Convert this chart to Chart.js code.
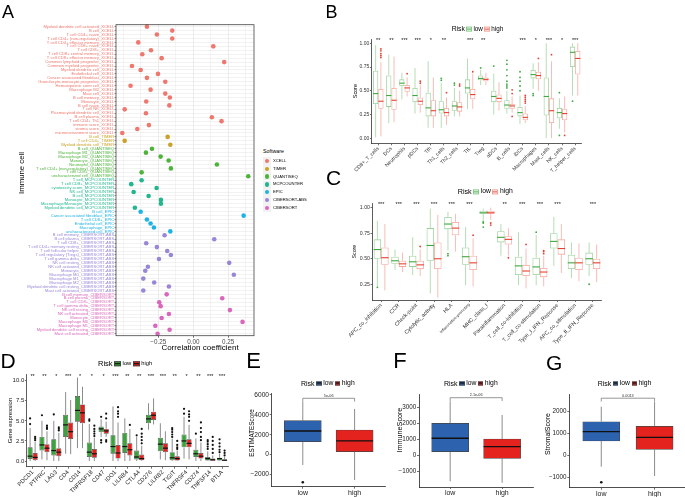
<!DOCTYPE html>
<html>
<head>
<meta charset="utf-8">
<script src="https://cdn.jsdelivr.net/npm/chart.js@4.4.0/dist/chart.umd.min.js"></script>
<style>
  body { margin: 0; background: #fff; }
  #fig { position: relative; width: 685px; height: 497px; overflow: hidden; background: #fff;
         font-family: "Liberation Sans", Arial, Helvetica, sans-serif; }
  #fig canvas { position: absolute; }
  .t { position: absolute; white-space: nowrap; line-height: 1; color: #000; }
  .key { display: inline-block; position: relative; box-sizing: border-box; margin: 0 1.5px; }
  .key::after { content: ""; position: absolute; left: 0; right: 0; top: 50%; height: 0;
                border-top: 1px solid var(--mc, #000); margin-top: -0.5px; }
</style>
</head>
<body>
<div id="fig">
  <canvas id="cA" width="258" height="362" style="left:0;top:0"></canvas>
  <canvas id="cB" width="250" height="148" style="left:338px;top:30px"></canvas>
  <canvas id="cC" width="268" height="160" style="left:338px;top:193px"></canvas>
  <canvas id="cD" width="232" height="132" style="left:0;top:365px"></canvas>
  <canvas id="cE" width="150" height="109" style="left:240px;top:388px"></canvas>
  <canvas id="cF" width="150" height="109" style="left:388px;top:388px"></canvas>
  <canvas id="cG" width="149" height="109" style="left:536px;top:388px"></canvas>
</div>
<script>
// ---- panel A: correlation of risk score with immune cells ----
const softwareNames = ['XCELL', 'TIMER', 'QUANTISEQ', 'MCPCOUNTER', 'EPIC', 'CIBERSORT-ABS', 'CIBERSORT'];
const softwareColors = ['#EE776E', '#C9A227', '#4DB33A', '#22B68E', '#1DB3E4', '#9A86D6', '#DA67BB'];

const xcellCells = ['Myeloid dendritic cell activated', 'B cell', 'T cell CD4+ naive', 'T cell CD4+ (non-regulatory)',
  'T cell CD4+ effector memory', 'T cell CD8+ naive', 'T cell CD8+', 'T cell CD8+ central memory',
  'T cell CD8+ effector memory', 'Common lymphoid progenitor', 'Common myeloid progenitor', 'Myeloid dendritic cell',
  'Endothelial cell', 'Cancer associated fibroblast', 'Granulocyte-monocyte progenitor', 'Hematopoietic stem cell',
  'Macrophage M2', 'Mast cell', 'B cell memory', 'Monocyte', 'B cell naive', 'T cell NK',
  'Plasmacytoid dendritic cell', 'B cell plasma', 'T cell CD4+ Th1', 'immune score', 'stroma score',
  'microenvironment score'];
const xcellCor = [-0.331, -0.150, -0.260, -0.150, -0.393, 0.143, -0.302, -0.364, -0.226, 0.221, -0.438, -0.376,
  -0.252, -0.331, -0.200, -0.448, -0.305, -0.200, -0.167, -0.336, -0.171, -0.490, -0.338, 0.133, 0.202, -0.317,
  -0.400, -0.507];
const timerCells = ['B cell', 'T cell CD4+', 'Myeloid dendritic cell'];
const timerCor = [-0.183, -0.490, -0.164];
const quantiseqCells = ['B cell', 'Macrophage M1', 'Macrophage M2', 'Monocyte', 'Neutrophil',
  'T cell CD4+ (non-regulatory)', 'T cell CD8+', 'uncharacterized cell'];
const quantiseqCor = [-0.295, -0.338, -0.233, -0.176, 0.169, -0.160, -0.369, 0.393];
const mcpCells = ['T cell', 'T cell CD8+', 'cytotoxicity score', 'NK cell', 'B cell', 'Monocyte',
  'Macrophage/Monocyte', 'Myeloid dendritic cell'];
const mcpCor = [-0.369, -0.443, -0.262, -0.426, -0.319, -0.231, -0.231, -0.417];
const epicCells = ['B cell', 'Cancer associated fibroblast', 'T cell CD8+', 'Endothelial cell', 'Macrophage',
  'uncharacterized cell'];
const epicCor = [-0.376, 0.360, -0.331, -0.305, -0.281, -0.164];
const absCells = ['B cell memory', 'B cell plasma', 'T cell CD8+', 'T cell CD4+ memory resting',
  'T cell follicular helper', 'T cell regulatory (Tregs)', 'T cell gamma delta', 'NK cell resting',
  'NK cell activated', 'Monocyte', 'Macrophage M0', 'Macrophage M1', 'Macrophage M2',
  'Myeloid dendritic cell resting', 'Mast cell activated'];
const absCor = [-0.205, 0.150, -0.336, -0.260, -0.186, -0.160, -0.245, 0.257, -0.324, -0.343, 0.290, -0.357,
  -0.279, -0.174, -0.357];
const cibCells = ['B cell memory', 'B cell plasma', 'T cell CD8+', 'T cell gamma delta', 'NK cell resting',
  'NK cell activated', 'Monocyte', 'Macrophage M0', 'Macrophage M1', 'Myeloid dendritic cell resting',
  'Mast cell activated'];
const cibCor = [-0.190, 0.207, -0.243, -0.233, 0.262, -0.174, -0.226, 0.352, -0.271, -0.169, -0.255];
const corTicks = [-0.5, -0.375, -0.25, -0.125, 0, 0.125, 0.25, 0.375];
const corMajor = { '-0.25': '\u22120.25', '0': '0.00', '0.25': '0.25' };

// ---- panel B: ssGSEA immune cells ----
const bCats = ['CD8+_T_cells', 'DCs', 'Neutrophils', 'pDCs', 'Tfh', 'Th1_cells', 'Th2_cells', 'TIL', 'Treg',
  'aDCs', 'B_cells', 'iDCs', 'Macrophages', 'Mast_cells', 'NK_cells', 'T_helper_cells'];
const bLow = [[.01, .36, .47, .71, .98], [.16, .33, .45, .66, .88], [.41, .55, .58, .62, .69], [.26, .38, .45, .53, .74],
  [.11, .23, .32, .48, .81], [.11, .26, .30, .39, .58], [.23, .29, .34, .39, .53], [.31, .47, .53, .62, .84],
  [.56, .61, .63, .66, .72], [.25, .38, .44, .50, .68], [.26, .31, .35, .40, .50], [.15, .23, .27, .33, .45],
  [.52, .63, .67, .72, .79], [0, .24, .44, .64, 1.0], [.10, .21, .27, .32, .42], [.45, .75, .905, .965, 1.0]];
const bHigh = [[.02, .31, .39, .52, .80], [.17, .30, .40, .53, .86], [.44, .49, .53, .56, .64], [.27, .35, .39, .43, .56],
  [.11, .23, .29, .40, .64], [.14, .23, .27, .32, .43], [.23, .28, .33, .38, .50], [.31, .41, .46, .52, .68],
  [.56, .60, .62, .64, .69], [.29, .38, .42, .46, .59], [.27, .31, .34, .36, .44], [.16, .19, .22, .26, .34],
  [.50, .62, .66, .70, .80], [0, .16, .29, .42, .81], [.06, .19, .26, .31, .44], [.45, .67, .84, .92, 1.0]];
const bLowOut = [[], [], [], [], [], [.61, .63], [.56, .58], [], [.74], [.76],
  [.53, .55, .57, .60, .66, .72, .78, .82], [.50, .55, .60, .64, .70], [.45, .47], [], [.03, .48], [.39]];
const bHighOut = [[.85, .87, .89, .92, .94], [], [.68], [.58, .60], [], [.48], [.55, .57], [.70], [], [],
  [.23, .47, .51], [.37, .39, .41, .43, .45], [.84], [.88], [.03], []];
const bSig = ['**', '**', '***', '***', '*', '**', '', '***', '**', '', '', '***', '*', '***', '*', '***'];
const bTicks = [0, 0.25, 0.5, 0.75, 1];

// ---- panel C: ssGSEA immune functions ----
const cCats = ['APC_co_inhibition', 'CCR', 'Check-point', 'Cytolytic_activity', 'HLA', 'Inflammation-promoting',
  'MHC_class_I', 'Parainflammation', 'T_cell_co-inhibition', 'T_cell_co-stimulation', 'Type_I_IFN_Reponse',
  'APC_co_stimulation', 'Type_II_IFN_Reponse'];
const cLow = [[.23, .50, .59, .69, .87], [.39, .45, .48, .52, .59], [.34, .42, .47, .53, .71], [.16, .48, .63, .80, .99],
  [.58, .79, .84, .91, .96], [.24, .44, .52, .61, .81], [.87, .94, .95, .97, .99], [.53, .66, .71, .77, .84],
  [.24, .34, .43, .52, .76], [.24, .34, .42, .51, .73], [.43, .60, .67, .75, .91], [.31, .40, .46, .54, .66],
  [.33, .44, .50, .56, .66]];
const cHigh = [[.19, .44, .51, .61, .84], [.37, .42, .45, .48, .56], [.33, .40, .44, .48, .59], [.12, .40, .50, .66, .93],
  [.57, .73, .80, .86, .94], [.23, .39, .46, .53, .70], [.88, .94, .95, .97, 1.0], [.53, .64, .69, .72, .80],
  [.21, .33, .38, .44, .60], [.23, .32, .37, .41, .53], [.36, .54, .60, .69, .84], [.28, .39, .46, .51, .65],
  [.27, .40, .46, .50, .64]];
const cLowOut = [[.22], [], [], [], [.53, .55], [], [.81, .85, .86], [], [], [.76], [], [], [.25]];
const cHighOut = [[], [], [.62], [], [], [.73], [.83, .85], [.51], [.64], [.55, .57, .58], [], [], []];
const cSig = ['***', '***', '***', '***', '***', '***', '', '**', '***', '***', '***', '', '***'];
const cTicks = [0.25, 0.5, 0.75, 1];

// ---- panel D: immune checkpoint genes ----
const dGenes = ['PDCD1', 'PTPRC', 'LAG3', 'CD4', 'CD14', 'TNFRSF18', 'CD47', 'IDO1', 'LILRB4', 'CTLA4', 'CD276',
  'LILRB2', 'TIGIT', 'TNFRSF4', 'CD274', 'TNFSF14', 'BTLA'];
const dLow = [[0, .25, .6, 1.7, 4.1], [.2, 1.3, 2.0, 3.0, 5.0], [0, .7, 1.3, 2.7, 5.0], [.9, 3.0, 4.5, 5.75, 8.6],
  [1.6, 4.9, 6.3, 8.1, 10.4], [0, .5, 1.1, 2.3, 4.6], [3.0, 3.6, 4.0, 4.3, 5.2], [0, .9, 1.8, 3.2, 6.8],
  [0, 1.0, 1.8, 3.5, 5.3], [0, .2, .5, 1.3, 3.0], [3.9, 4.7, 5.25, 5.75, 7.2], [.2, 1.2, 2.1, 2.9, 4.7],
  [0, .1, .4, 1.1, 2.8], [.3, 1.7, 2.5, 3.3, 5.5], [0, .5, .9, 1.4, 2.8], [0, .05, .3, .5, 1.2], [0, .05, .3, .4, .9]];
const dHigh = [[0, .1, .45, 1.0, 2.4], [.1, 1.1, 1.6, 2.1, 3.7], [0, .6, 1.1, 1.6, 3.5], [.85, 2.75, 3.65, 4.8, 7.6],
  [1.6, 4.7, 6.0, 7.05, 9.25], [0, .4, .9, 1.5, 2.9], [3.0, 3.4, 3.75, 4.0, 4.9], [0, .3, 1.0, 2.0, 4.8],
  [0, .7, 1.4, 2.2, 4.0], [0, .1, .3, .8, 1.9], [4.55, 5.1, 5.7, 6.15, 7.8], [.1, 1.1, 1.6, 2.2, 3.7],
  [0, .05, .3, .6, 1.3], [.2, 1.7, 2.2, 2.7, 4.5], [0, .3, .6, 1.0, 2.3], [0, .02, .15, .3, .7], [0, .02, .1, .2, .5]];
const dLowOut = [[4.6, 5.3], [5.7], [5.8], [], [], [5.0, 5.2], [2.3, 2.6, 5.5], [], [], [3.2], [], [],
  [3.0, 3.3, 3.6, 3.9, 4.1], [5.9, 6.5], [3.4], [1.5, 1.8, 2.1, 2.4, 2.6], [1.1, 1.4, 1.8, 2.2, 2.7]];
const dHighOut = [[2.6, 2.8, 3.0], [4.0, 4.2, 4.4], [3.8, 4.0, 4.2], [], [], [3.1, 3.4, 3.7, 4.0, 4.4],
  [2.4, 2.6, 5.3, 5.9], [5.5, 5.9, 6.2, 6.7], [4.5], [2.2, 2.6, 3.0, 3.4, 4.0], [], [], [1.5, 1.7, 2.0, 2.5],
  [5.0, 5.5, 5.8, 6.2], [2.6, 3.0, 3.6, 4.1, 4.8], [1.0, 1.5, 2.0, 2.5, 3.0], [0.7, 1.0, 1.3]];
const dSig = ['**', '**', '*', '***', '*', '*', '*', '***', '**', '**', '***', '***', '**', '*', '**', '***', '***'];
const dTicks = [0, 2.5, 5, 7.5, 10];

// ---- panels E, F, G: ESTIMATE scores ----
const riskGroups = ['low', 'high'];
const eLow = [-1035, 1307, 2382, 3417, 5327], eHigh = [-2543, 302, 1377, 2482, 4593];
const eLowOut = [-2774], eHighOut = [];
const fLow = [-1600, 250, 1090, 2025, 3400], fHigh = [-1690, -165, 565, 1045, 2545];
const fLowOut = [], fHighOut = [];
const gLow = [-500, 668, 1090, 1545, 2227], gHigh = [-923, 290, 836, 1336, 2455];
const gLowOut = [-1210], gHighOut = [];
const eTicks = [-2000, 0, 2000, 4000, 6000];
const fTicks = [-1000, 0, 1000, 2000, 3000];
const gTicks = [-1000, 0, 1000, 2000];

// ---------------------------------------------------------------
const FONT = '"Liberation Sans", Arial, Helvetica, sans-serif';
Chart.defaults.font.family = FONT;
Chart.defaults.animation = false;
Chart.defaults.responsive = false;
Chart.defaults.events = [];
Chart.defaults.plugins.legend.display = false;
Chart.defaults.plugins.tooltip.enabled = false;

const fig = document.getElementById('fig');

function fixY(w) { return s => { s.width = w; s.paddingTop = 0; s.paddingBottom = 0; }; }
function fixX(h) { return s => { s.height = h; s.paddingLeft = 0; s.paddingRight = 0; }; }
function setTicks(vals) { return s => { s.ticks = vals.map(v => ({ value: v })); }; }
const minus = v => (v < 0 ? '\u2212' + Math.abs(v) : String(v));

// whiskers, medians and outliers on top of the floating [q1, q3] bars
const boxPlugin = {
  id: 'boxes',
  afterDatasetsDraw(chart) {
    const ctx = chart.ctx;
    chart.data.datasets.forEach((ds, i) => {
      if (!ds.stats) return;
      const meta = chart.getDatasetMeta(i);
      const ys = chart.scales[meta.yAxisID];
      meta.data.forEach((bar, j) => {
        const s = ds.stats[j];
        const x = bar.x, hw = bar.width / 2;
        ctx.save();
        ctx.strokeStyle = ds.whiskerColor;
        ctx.lineWidth = ds.whiskerWidth;
        ctx.beginPath();
        ctx.moveTo(x, ys.getPixelForValue(s[3])); ctx.lineTo(x, ys.getPixelForValue(s[4]));
        ctx.moveTo(x, ys.getPixelForValue(s[1])); ctx.lineTo(x, ys.getPixelForValue(s[0]));
        ctx.stroke();
        const ym = ys.getPixelForValue(s[2]);
        ctx.strokeStyle = ds.medianColor;
        ctx.lineWidth = ds.medianWidth;
        ctx.beginPath();
        ctx.moveTo(x - hw, ym); ctx.lineTo(x + hw, ym);
        ctx.stroke();
        ctx.fillStyle = ds.outlierColor;
        (ds.outliers[j] || []).forEach(v => {
          ctx.beginPath();
          ctx.arc(x, ys.getPixelForValue(v), ds.outlierRadius, 0, Math.PI * 2);
          ctx.fill();
        });
        ctx.restore();
      });
    });
  }
};

function starsPlugin(labels, yVal, size) {
  return {
    id: 'stars',
    afterDatasetsDraw(chart) {
      const ctx = chart.ctx, xs = chart.scales.x, ys = chart.scales.y;
      ctx.save();
      ctx.fillStyle = '#111';
      ctx.font = size + 'px ' + FONT;
      ctx.textAlign = 'center';
      ctx.textBaseline = 'middle';
      labels.forEach((t, i) => ctx.fillText(t, xs.getPixelForValue(i), ys.getPixelForValue(yVal)));
      ctx.restore();
    }
  };
}

function bracketPlugin(text, top, drop, size) {
  return {
    id: 'bracket',
    afterDatasetsDraw(chart) {
      const ctx = chart.ctx, xs = chart.scales.x, ys = chart.scales.y;
      const x1 = xs.getPixelForValue(1), x2 = xs.getPixelForValue(2);
      const yt = ys.getPixelForValue(top), yb = ys.getPixelForValue(top - drop);
      ctx.save();
      ctx.strokeStyle = '#6a6a6a';
      ctx.lineWidth = 0.7;
      ctx.beginPath();
      ctx.moveTo(x1, yb); ctx.lineTo(x1, yt); ctx.lineTo(x2, yt); ctx.lineTo(x2, yb);
      ctx.stroke();
      ctx.fillStyle = '#333';
      ctx.font = size + 'px ' + FONT;
      ctx.textAlign = 'center';
      ctx.textBaseline = 'bottom';
      ctx.fillText(text, (x1 + x2) / 2, yt - 0.6);
      ctx.restore();
    }
  };
}

const framePlugin = {
  id: 'frame',
  afterDraw(chart) {
    const a = chart.chartArea, ctx = chart.ctx;
    ctx.save();
    ctx.strokeStyle = '#444';
    ctx.lineWidth = 0.8;
    ctx.strokeRect(a.left, a.top, a.right - a.left, a.bottom - a.top);
    ctx.restore();
  }
};

function boxDataset(stats, outliers, st) {
  return {
    data: stats.map(s => [s[1], s[3]]),
    stats: stats, outliers: outliers,
    backgroundColor: st.fill, borderColor: st.border, borderWidth: st.borderWidth, borderSkipped: false,
    whiskerColor: st.whisker, whiskerWidth: st.whiskerWidth,
    medianColor: st.median, medianWidth: st.medianWidth,
    outlierColor: st.outlier, outlierRadius: st.outlierRadius
  };
}

// styles
const pastelLow = { fill: 'rgba(255,255,255,0)', border: 'rgba(70,170,70,0.55)', borderWidth: 0.8,
  whisker: 'rgba(70,170,70,0.5)', whiskerWidth: 0.8, median: '#3EA83E', medianWidth: 1.1,
  outlier: '#3EA83E', outlierRadius: 0.9 };
const pastelHigh = { fill: 'rgba(255,255,255,0)', border: 'rgba(235,90,75,0.55)', borderWidth: 0.8,
  whisker: 'rgba(235,90,75,0.5)', whiskerWidth: 0.8, median: '#E8402F', medianWidth: 1.1,
  outlier: '#E8402F', outlierRadius: 0.9 };
const solid = (fill, r, mw) => ({ fill: fill, border: '#454545', borderWidth: 0.7, whisker: '#6e6e6e',
  whiskerWidth: 0.8, median: '#111', medianWidth: mw, outlier: '#111', outlierRadius: r });

function groupedBoxChart(id, o) {
  return new Chart(document.getElementById(id), {
    type: 'bar',
    data: {
      labels: o.cats,
      datasets: [boxDataset(o.low, o.lowOut, o.lowStyle), boxDataset(o.high, o.highOut, o.highStyle)]
        .map(d => Object.assign(d, { categoryPercentage: o.catPct, barPercentage: 1 }))
    },
    options: {
      layout: { padding: { top: o.padTop, right: o.padRight, left: 0, bottom: 0 } },
      scales: {
        x: {
          type: 'category', offset: true, afterFit: fixX(o.xH),
          ticks: { autoSkip: false, minRotation: 45, maxRotation: 45, font: o.xFont, color: o.tickColor, padding: 0.3 },
          grid: { drawOnChartArea: false, offset: false, tickLength: 2, tickColor: '#333', lineWidth: 0.7 },
          border: { display: true, color: '#333', width: 0.8 }
        },
        y: {
          type: 'linear', min: o.yMin, max: o.yMax, afterBuildTicks: setTicks(o.yTicks), afterFit: fixY(o.yW),
          ticks: { font: { size: o.yFont }, color: o.tickColor, padding: 0.6, callback: o.yFmt },
          grid: { drawOnChartArea: false, tickLength: 1.8, tickColor: '#333', lineWidth: 0.7 },
          border: { display: true, color: '#333', width: 0.8 },
          title: { display: true, text: o.yTitle, color: '#000', font: { size: o.yTitleSize },
                   padding: { top: o.yTitlePad, bottom: 0 } }
        }
      }
    },
    plugins: [boxPlugin, starsPlugin(o.sig, o.sigY, o.sigSize)]
  });
}

function pairBoxChart(id, o) {
  const lowDs = boxDataset([o.low], [o.lowOut], solid('#2D62AF', 1.3, 1.3));
  const highDs = boxDataset([o.high], [o.highOut], solid('#E4221E', 1.3, 1.3));
  lowDs.data = [{ x: 1, y: [o.low[1], o.low[3]] }];
  highDs.data = [{ x: 2, y: [o.high[1], o.high[3]] }];
  [lowDs, highDs].forEach(d => Object.assign(d, { barThickness: 37, grouped: false }));
  return new Chart(document.getElementById(id), {
    type: 'bar',
    data: { datasets: [lowDs, highDs] },
    options: {
      layout: { padding: { top: o.padTop, right: o.padRight, left: 0, bottom: 0 } },
      scales: {
        x: {
          type: 'linear', offset: false, min: 0.4, max: o.xMax, afterBuildTicks: setTicks([1, 2]), afterFit: fixX(o.xH),
          ticks: { maxRotation: 0, font: { size: 7 }, color: '#222', padding: 0, callback: v => riskGroups[v - 1] },
          grid: { drawOnChartArea: false, offset: false, tickLength: 2, tickColor: '#333', lineWidth: 0.7 },
          border: { display: true, color: '#222', width: 0.8 }
        },
        y: {
          type: 'linear', min: o.yMin, max: o.yMax, afterBuildTicks: setTicks(o.yTicks), afterFit: fixY(o.yW),
          ticks: { font: { size: o.yFont }, color: '#222', padding: 0.7, callback: minus },
          grid: { drawOnChartArea: false, tickLength: 2, tickColor: '#333', lineWidth: 0.7 },
          border: { display: true, color: '#222', width: 0.8 }
        }
      }
    },
    plugins: [boxPlugin, bracketPlugin(o.pText, o.pTop, o.pDrop, 3.8)]
  });
}

// ---------------- Panel A ----------------
const groupsA = [
  [xcellCells, xcellCor], [timerCells, timerCor], [quantiseqCells, quantiseqCor], [mcpCells, mcpCor],
  [epicCells, epicCor], [absCells, absCor], [cibCells, cibCor]
];
const rowLabels = [], rowCor = [], rowColors = [];
groupsA.forEach(([cells, cor], g) => {
  cells.forEach((c, i) => {
    rowLabels.push(c + '_' + softwareNames[g]);
    rowCor.push(cor[i]);
    rowColors.push(softwareColors[g]);
  });
});

new Chart(document.getElementById('cA'), {
  type: 'scatter',
  data: {
    datasets: [{
      data: rowCor.map((v, i) => ({ x: v, y: i })),
      pointRadius: 2.3, pointBackgroundColor: rowColors, pointBorderWidth: 0
    }]
  },
  options: {
    layout: { padding: { top: 24.7, right: 4, left: 0, bottom: 0 } },
    scales: {
      x: {
        type: 'linear', min: -0.552, max: 0.434, afterBuildTicks: setTicks(corTicks), afterFit: fixX(26.3),
        ticks: { maxRotation: 0, font: { size: 6.3 }, color: '#4D4D4D', padding: 0.5,
                 callback: v => corMajor[String(v)] || '' },
        grid: {
          color: '#E4E4E4',
          lineWidth: c => (corMajor[String(c.tick && c.tick.value)] ? 0.7 : 0.4),
          tickColor: c => (corMajor[String(c.tick && c.tick.value)] ? '#333' : 'rgba(0,0,0,0)'),
          tickLength: 2
        },
        border: { display: false }
      },
      y: {
        type: 'category', labels: rowLabels, offset: true, afterFit: fixY(116),
        ticks: { autoSkip: false, font: { size: 4.1 }, color: c => rowColors[c.index], padding: 0.3 },
        grid: { offset: false, color: '#E4E4E4', lineWidth: 0.5, tickColor: '#333', tickLength: 1.5 },
        border: { display: false }
      }
    }
  },
  plugins: [framePlugin]
});

// ---------------- Panel B ----------------
groupedBoxChart('cB', {
  cats: bCats, low: bLow, high: bHigh, lowOut: bLowOut, highOut: bHighOut,
  lowStyle: pastelLow, highStyle: pastelHigh, catPct: 0.8,
  padTop: 9, padRight: 6.3, xH: 34.7, yW: 33.7,
  yMin: -0.053, yMax: 1.045, yTicks: bTicks, yFmt: v => v.toFixed(2), yFont: 5,
  xFont: { size: 5.2 }, tickColor: '#333',
  yTitle: 'Score', yTitleSize: 5.4, yTitlePad: 13.8,
  sig: bSig, sigY: 1.03, sigSize: 5.5
});

// ---------------- Panel C ----------------
groupedBoxChart('cC', {
  cats: cCats, low: cLow, high: cHigh, lowOut: cLowOut, highOut: cHighOut,
  lowStyle: pastelLow, highStyle: pastelHigh, catPct: 0.85,
  padTop: 10.3, padRight: 4.3, xH: 53, yW: 34.3,
  yMin: 0.096, yMax: 1.043, yTicks: cTicks, yFmt: v => v.toFixed(2), yFont: 5.2,
  xFont: c => ({ size: c.index === 5 ? 3.9 : 5.5 }), tickColor: '#333',
  yTitle: 'Score', yTitleSize: 5.2, yTitlePad: 13.7,
  sig: cSig, sigY: 1.03, sigSize: 5.5
});

// ---------------- Panel D ----------------
groupedBoxChart('cD', {
  cats: dGenes, low: dLow, high: dHigh, lowOut: dLowOut, highOut: dHighOut,
  lowStyle: solid('#3BA33B', 1.1, 1.2), highStyle: solid('#E41F1C', 1.1, 1.2), catPct: 0.85,
  padTop: 9.3, padRight: 4, xH: 30.3, yW: 26.7,
  yMin: -0.71, yMax: 10.8, yTicks: dTicks, yFmt: v => v.toFixed(1), yFont: 6,
  xFont: { size: 5.8 }, tickColor: '#222',
  yTitle: 'Gene expression', yTitleSize: 6, yTitlePad: 6.4,
  sig: dSig, sigY: 10.5, sigSize: 5.5
});

// ---------------- Panels E, F, G ----------------
pairBoxChart('cE', {
  low: eLow, high: eHigh, lowOut: eLowOut, highOut: eHighOut,
  padTop: 5.3, padRight: 4.3, xH: 10.3, yW: 31.7, xMax: 2.6,
  yMin: -3220, yMax: 6170, yTicks: eTicks, yFont: 6.6,
  pText: '5e-06', pTop: 5668, pDrop: 330
});
pairBoxChart('cF', {
  low: fLow, high: fHigh, lowOut: fLowOut, highOut: fHighOut,
  padTop: 6.3, padRight: 4.7, xH: 10, yW: 31, xMax: 2.6,
  yMin: -1956, yMax: 3837, yTicks: fTicks, yFont: 6.3,
  pText: '2.1e-06', pTop: 3625, pDrop: 206
});
pairBoxChart('cG', {
  low: gLow, high: gHigh, lowOut: gLowOut, highOut: gHighOut,
  padTop: 6.3, padRight: 0, xH: 9.3, yW: 33.3, xMax: 2.571,
  yMin: -1455, yMax: 2791, yTicks: gTicks, yFont: 6.3,
  pText: '0.0013', pTop: 2614, pDrop: 150
});

// ---------------- HTML text: letters, titles, legends ----------------
function label(text, x, y, size, extra) {
  const d = document.createElement('div');
  d.className = 't';
  d.textContent = text;
  d.style.left = x + 'px';
  d.style.top = y + 'px';
  d.style.fontSize = size + 'px';
  if (extra) Object.assign(d.style, extra);
  fig.appendChild(d);
  return d;
}
const rot = { transform: 'translate(-50%,-50%) rotate(-90deg)' };
const mid = { transform: 'translate(-50%,-50%)' };

label('A', 2, 2.6, 18);
label('B', 325.5, 2.6, 18);
label('C', 326, 167.3, 21);
label('D', 0.5, 350.3, 21);
label('E', 246.3, 350.1, 22);
label('F', 393.3, 350.1, 22);
label('G', 546, 352.3, 21);

label('Immune cell', 21.5, 173, 7.8, rot);
label('Correlation coefficient', 200, 347.5, 8, mid);
label('ESTIMATEScore', 251.7, 432.5, 6.3, rot);
label('ImmuneScore', 400, 430, 7.2, rot);
label('StromalScore', 548.3, 434, 6.9, rot);

function riskLegend(x, y, tSize, lSize, kw, kh, lowKey, highKey) {
  const d = document.createElement('div');
  d.className = 't';
  d.style.cssText = 'left:' + x + 'px;top:' + y + 'px;transform:translateY(-50%);display:flex;align-items:center;';
  const k = s => '<span class="key" style="width:' + kw + 'px;height:' + kh + 'px;' + s + '"></span>';
  d.innerHTML = '<span style="font-size:' + tSize + 'px">Risk</span>' + k(lowKey) +
    '<span style="font-size:' + lSize + 'px">low</span>' + k(highKey) +
    '<span style="font-size:' + lSize + 'px">high</span>';
  fig.appendChild(d);
}
const kPastelLow = 'background:#fff;border:0.8px solid #86c986;--mc:#3EA83E';
const kPastelHigh = 'background:#fff;border:0.8px solid #f0a092;--mc:#E8402F';
const kSolid = c => 'background:' + c + ';border:0.7px solid #444;--mc:#000';
riskLegend(451.7, 29, 6.8, 6.3, 5.5, 5, kPastelLow, kPastelHigh);
riskLegend(457.7, 191.7, 7.2, 6.8, 6, 5.5, kPastelLow, kPastelHigh);
riskLegend(98, 364, 7.5, 5.8, 7, 5, kSolid('#3BA33B'), kSolid('#E41F1C'));
riskLegend(301, 383.3, 7, 6.8, 5.5, 4.5, kSolid('#2D62AF'), kSolid('#E4221E'));
riskLegend(444, 383.3, 7, 6.8, 5.5, 4.5, kSolid('#2D62AF'), kSolid('#E4221E'));
riskLegend(597.7, 383.3, 7, 6.8, 5.5, 4.5, kSolid('#2D62AF'), kSolid('#E4221E'));

// software legend for panel A
label('Software', 263, 152, 5.3, { transform: 'translateY(-50%)' });
softwareNames.forEach((name, i) => {
  const y = 161 + i * 7.8;
  const box = document.createElement('div');
  box.style.cssText = 'position:absolute;left:263px;top:' + (y - 3.9) + 'px;width:7.8px;height:7.8px;background:#F2F2F2;';
  const dot = document.createElement('div');
  dot.style.cssText = 'position:absolute;left:1.7px;top:1.7px;width:4.4px;height:4.4px;border-radius:50%;background:' + softwareColors[i] + ';';
  box.appendChild(dot);
  fig.appendChild(box);
  label(name, 273, y, 4.2, { transform: 'translateY(-50%)' });
});
</script>
</body>
</html>
